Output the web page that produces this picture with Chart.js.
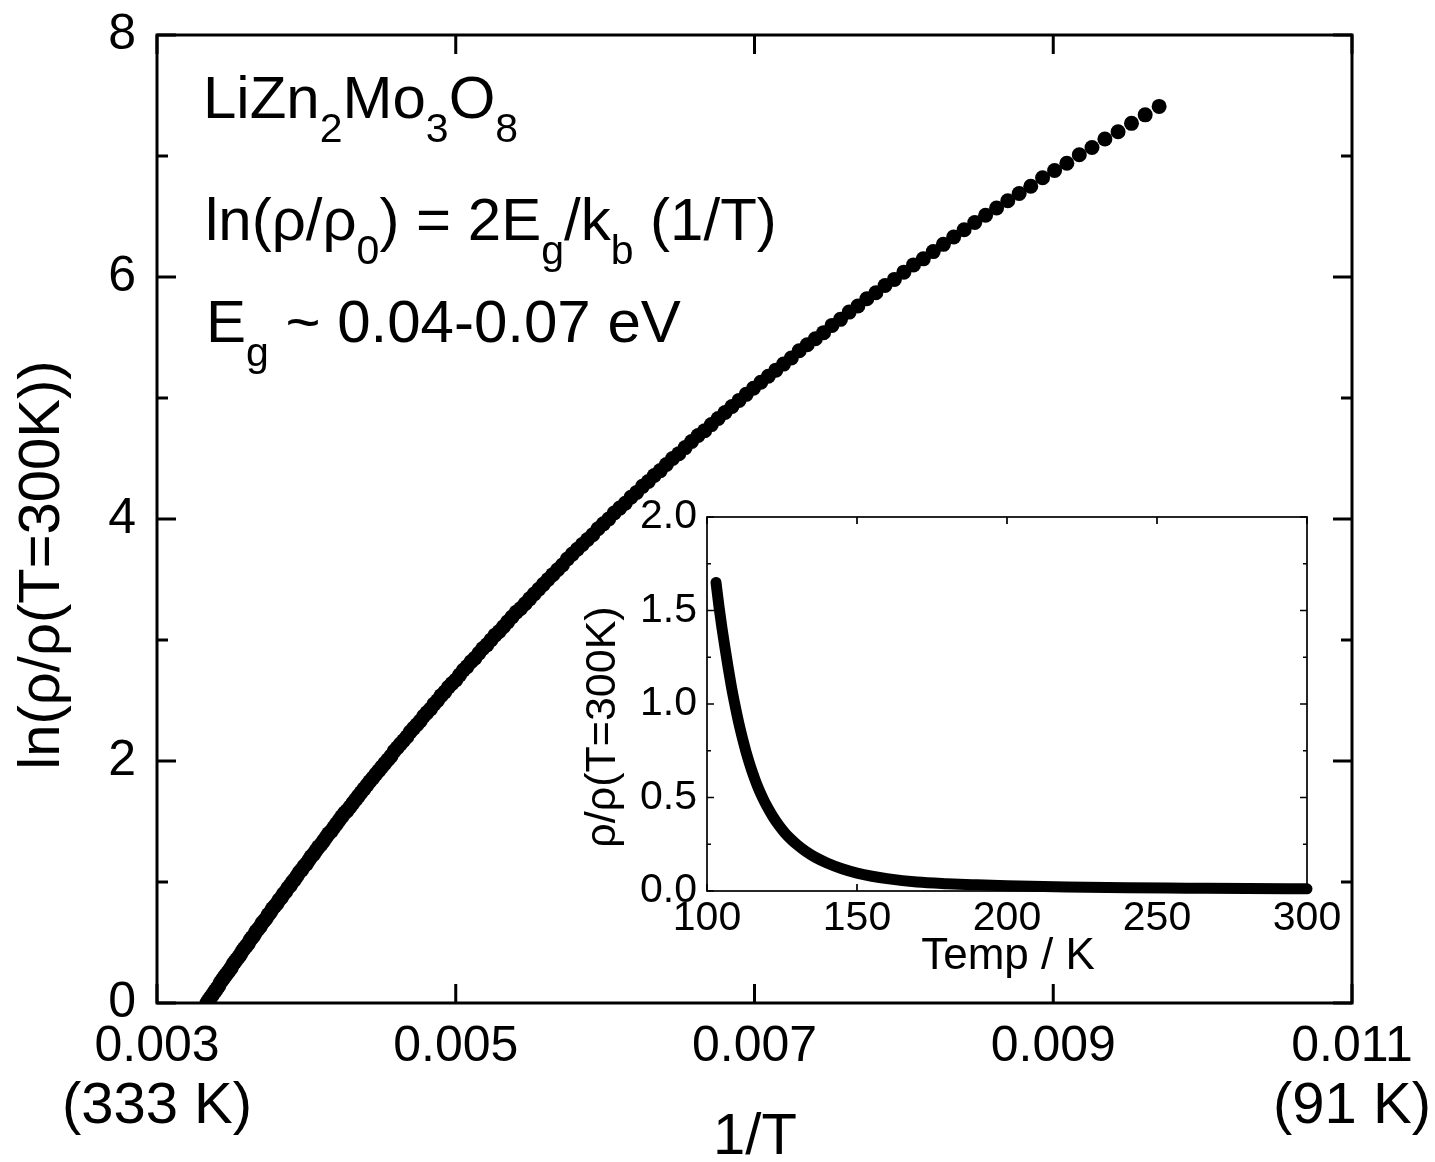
<!DOCTYPE html>
<html>
<head>
<meta charset="utf-8">
<script src="https://cdn.jsdelivr.net/npm/chart.js@4.4.1/dist/chart.umd.min.js"></script>
<style>
  html, body { margin: 0; padding: 0; background: #fff; }
  #wrap { position: relative; width: 1435px; height: 1162px; }
  #mainChart { position: absolute; left: 0; top: 0; }
  #insetChart { position: absolute; left: 560px; top: 490px; }
</style>
</head>
<body>
<div id="wrap">
  <canvas id="mainChart" width="1435" height="1162"></canvas>
  <canvas id="insetChart" width="800" height="500"></canvas>
</div>
<script>
// --- data: main panel, ln(rho/rho300) per temperature (K) ---
const temps = [
  300, 299, 298, 297, 296, 295, 294, 293, 292, 291,
  290, 289, 288, 287, 286, 285, 284, 283, 282, 281,
  280, 279, 278, 277, 276, 275, 274, 273, 272, 271,
  270, 269, 268, 267, 266, 265, 264, 263, 262, 261,
  260, 259, 258, 257, 256, 255, 254, 253, 252, 251,
  250, 249, 248, 247, 246, 245, 244, 243, 242, 241,
  240, 239, 238, 237, 236, 235, 234, 233, 232, 231,
  230, 229, 228, 227, 226, 225, 224, 223, 222, 221,
  220, 219, 218, 217, 216, 215, 214, 213, 212, 211,
  210, 209, 208, 207, 206, 205, 204, 203, 202, 201,
  200, 199, 198, 197, 196, 195, 194, 193, 192, 191,
  190, 189, 188, 187, 186, 185, 184, 183, 182, 181,
  180, 179, 178, 177, 176, 175, 174, 173, 172, 171,
  170, 169, 168, 167, 166, 165, 164, 163, 162, 161,
  160, 159, 158, 157, 156, 155, 154, 153, 152, 151,
  150, 149, 148, 147, 146, 145, 144, 143, 142, 141,
  140, 139, 138, 137, 136, 135, 134, 133, 132, 131,
  130, 129, 128, 127, 126, 125, 124, 123, 122, 121,
  120, 119, 118, 117, 116, 115, 114, 113, 112, 111,
  110, 109, 108, 107, 106, 105, 104, 103
];
const lnRatio = [
  0.00, 0.02, 0.04, 0.06, 0.08, 0.10, 0.12, 0.14, 0.17, 0.19,
  0.21, 0.23, 0.25, 0.27, 0.29, 0.32, 0.34, 0.36, 0.38, 0.40,
  0.43, 0.45, 0.47, 0.49, 0.52, 0.54, 0.56, 0.59, 0.61, 0.63,
  0.66, 0.68, 0.70, 0.73, 0.75, 0.78, 0.80, 0.82, 0.85, 0.87,
  0.90, 0.92, 0.95, 0.97, 1.00, 1.02, 1.05, 1.08, 1.10, 1.13,
  1.15, 1.18, 1.21, 1.23, 1.26, 1.29, 1.31, 1.34, 1.37, 1.40,
  1.42, 1.45, 1.48, 1.51, 1.54, 1.57, 1.59, 1.62, 1.65, 1.68,
  1.71, 1.74, 1.77, 1.80, 1.83, 1.86, 1.89, 1.92, 1.95, 1.98,
  2.01, 2.04, 2.08, 2.11, 2.14, 2.17, 2.20, 2.24, 2.27, 2.30,
  2.33, 2.37, 2.40, 2.43, 2.47, 2.50, 2.54, 2.57, 2.61, 2.64,
  2.67, 2.71, 2.75, 2.78, 2.82, 2.85, 2.89, 2.93, 2.96, 3.00,
  3.04, 3.07, 3.11, 3.15, 3.19, 3.23, 3.26, 3.30, 3.34, 3.38,
  3.42, 3.46, 3.50, 3.54, 3.58, 3.62, 3.67, 3.71, 3.75, 3.79,
  3.83, 3.87, 3.92, 3.96, 4.00, 4.05, 4.09, 4.13, 4.18, 4.22,
  4.27, 4.31, 4.36, 4.40, 4.45, 4.50, 4.54, 4.59, 4.64, 4.69,
  4.73, 4.78, 4.83, 4.88, 4.93, 4.98, 5.03, 5.08, 5.13, 5.18,
  5.23, 5.28, 5.33, 5.39, 5.44, 5.49, 5.54, 5.60, 5.65, 5.71,
  5.76, 5.82, 5.87, 5.93, 5.98, 6.04, 6.10, 6.15, 6.21, 6.27,
  6.33, 6.39, 6.45, 6.51, 6.57, 6.63, 6.69, 6.75, 6.82, 6.88,
  6.94, 7.01, 7.07, 7.14, 7.20, 7.27, 7.34, 7.41
];

// --- data: inset, rho/rho(300K) vs temperature ---
const insetTemps = [103, 104, 105, 106, 107, 108, 109, 110, 111, 112, 113, 114, 115, 116, 117, 118, 119, 120,
  122, 124, 126, 128, 130, 133, 136, 140, 145, 150, 155, 160, 170, 180, 190, 200, 220, 240, 260, 280, 300];
const insetRatio = [1.65, 1.52, 1.405, 1.30, 1.20, 1.105, 1.02, 0.942, 0.870, 0.805, 0.745, 0.691, 0.641, 0.596, 0.554, 0.517, 0.483, 0.452,
  0.397, 0.350, 0.310, 0.277, 0.248, 0.211, 0.181, 0.150, 0.119, 0.096, 0.079, 0.066, 0.048, 0.039, 0.033, 0.028, 0.021, 0.017, 0.015, 0.013, 0.012];

// --- ticks ---
const xTickValues = [0.003, 0.005, 0.007, 0.009, 0.011];
const xTickLabels = ['0.003', '0.005', '0.007', '0.009', '0.011'];
const xTickSubLabels = ['(333 K)', '', '', '', '(91 K)'];
const yTickValues = [0, 2, 4, 6, 8];
const yMinorValues = [1, 3, 5, 7];

const insetXTicks = [100, 150, 200, 250, 300];
const insetYTicks = [0, 0.5, 1.0, 1.5, 2.0];
const insetYMinor = [0.25, 0.75, 1.25, 1.75];

// --- text ---
const xTitle = '1/T';
const yTitle = 'ln(\u03C1/\u03C1(T=300K))';
const insetXTitle = 'Temp / K';
const insetYTitle = '\u03C1/\u03C1(T=300K)';
const noteLines = [
  [['LiZn', 0], ['2', 1], ['Mo', 0], ['3', 1], ['O', 0], ['8', 1]],
  [['ln(\u03C1/\u03C1', 0], ['0', 1], [') = 2E', 0], ['g', 1], ['/k', 0], ['b', 1], [' (1/T)', 0]],
  [['E', 0], ['g', 1], [' ~ 0.04-0.07 eV', 0]]
];

const FAMILY = "'Liberation Sans', Arial, Helvetica, sans-serif";

// 枠と内向きの目盛り
function frameTicks(opts) {
  return {
    id: 'frameTicks',
    afterDraw(chart) {
      const { ctx, chartArea: a, scales } = chart;
      ctx.save();
      ctx.strokeStyle = '#000';
      ctx.lineWidth = opts.lw;
      ctx.lineCap = 'butt';
      ctx.strokeRect(a.left, a.top, a.right - a.left, a.bottom - a.top);
      ctx.beginPath();
      opts.xMajor.forEach(v => {
        const px = scales.x.getPixelForValue(v);
        ctx.moveTo(px, a.bottom); ctx.lineTo(px, a.bottom - opts.major);
        ctx.moveTo(px, a.top); ctx.lineTo(px, a.top + opts.major);
      });
      opts.yMajor.forEach(v => {
        const py = scales.y.getPixelForValue(v);
        ctx.moveTo(a.left, py); ctx.lineTo(a.left + opts.major, py);
        ctx.moveTo(a.right, py); ctx.lineTo(a.right - opts.major, py);
      });
      opts.yMinor.forEach(v => {
        const py = scales.y.getPixelForValue(v);
        ctx.moveTo(a.left, py); ctx.lineTo(a.left + opts.minor, py);
        ctx.moveTo(a.right, py); ctx.lineTo(a.right - opts.minor, py);
      });
      ctx.stroke();
      ctx.restore();
    }
  };
}

function drawRich(ctx, x, y, parts, size, subSize, subDrop) {
  let cx = x;
  parts.forEach(([t, sub]) => {
    ctx.font = (sub ? subSize : size) + 'px ' + FAMILY;
    ctx.fillText(t, cx, sub ? y + subDrop : y);
    cx += ctx.measureText(t).width;
  });
}

function drawRotated(ctx, text, cx, cy, size) {
  ctx.save();
  ctx.translate(cx, cy);
  ctx.rotate(-Math.PI / 2);
  ctx.font = size + 'px ' + FAMILY;
  ctx.textAlign = 'center';
  ctx.textBaseline = 'middle';
  ctx.fillText(text, 0, 0);
  ctx.restore();
}

// 注記とタイトル
const mainText = {
  id: 'mainText',
  afterDraw(chart) {
    const ctx = chart.ctx;
    ctx.save();
    ctx.fillStyle = '#000';
    ctx.textAlign = 'left';
    ctx.textBaseline = 'alphabetic';
    const baselines = [118, 240, 342];
    const lefts = [203, 205, 206];
    noteLines.forEach((parts, i) => drawRich(ctx, lefts[i], baselines[i], parts, 60, 41, 24));
    ctx.font = '58px ' + FAMILY;
    ctx.textAlign = 'center';
    ctx.textBaseline = 'middle';
    ctx.fillText(xTitle, 755, 1138);
    drawRotated(ctx, yTitle, 43, 565, 58);
    // 2行目の温度表記
    xTickValues.forEach((v, i) => {
      if (xTickSubLabels[i]) ctx.fillText(xTickSubLabels[i], chart.scales.x.getPixelForValue(v), 1107);
    });
    ctx.restore();
  }
};

const insetText = {
  id: 'insetText',
  afterDraw(chart) {
    const ctx = chart.ctx;
    ctx.save();
    ctx.fillStyle = '#000';
    ctx.font = '44px ' + FAMILY;
    ctx.textAlign = 'center';
    ctx.textBaseline = 'middle';
    ctx.fillText(insetXTitle, 448, 467);
    drawRotated(ctx, insetYTitle, 43, 237, 43);
    ctx.restore();
  }
};

// 本体グラフ
new Chart(document.getElementById('mainChart'), {
  type: 'scatter',
  data: {
    datasets: [{
      data: temps.map((t, i) => ({ x: 1 / t, y: lnRatio[i] })),
      backgroundColor: '#000',
      borderColor: '#000',
      pointRadius: 7.5,
      pointBorderWidth: 0,
      pointHoverRadius: 7.5,
      clip: 0
    }]
  },
  options: {
    responsive: false,
    animation: false,
    events: [],
    layout: { padding: { left: 0, top: 35, right: 83, bottom: 0 } },
    plugins: { legend: { display: false }, tooltip: { enabled: false } },
    scales: {
      x: {
        type: 'linear', min: 0.003, max: 0.011,
        grid: { display: false, drawTicks: false },
        border: { display: false },
        ticks: {
          autoSkip: false, maxRotation: 0, minRotation: 0, padding: 14, color: '#000',
          font: { family: FAMILY, size: 50, lineHeight: 1.2 },
          callback: (v) => {
            const i = xTickValues.findIndex(t => Math.abs(t - v) < 1e-9);
            return i < 0 ? '' : xTickLabels[i];
          }
        },
        afterBuildTicks: s => { s.ticks = xTickValues.map(v => ({ value: v })); },
        afterFit: s => { s.height = 1162 - 1003; s.paddingLeft = 0; s.paddingRight = 0; }
      },
      y: {
        type: 'linear', min: 0, max: 8,
        grid: { display: false, drawTicks: false },
        border: { display: false },
        ticks: {
          padding: 21, color: '#000',
          font: { family: FAMILY, size: 50, lineHeight: 1 },
          callback: (v) => String(v)
        },
        afterBuildTicks: s => { s.ticks = yTickValues.map(v => ({ value: v })); },
        afterFit: s => { s.width = 157; s.paddingTop = 0; s.paddingBottom = 0; }
      }
    }
  },
  plugins: [frameTicks({ lw: 3, major: 19, minor: 11, xMajor: xTickValues, yMajor: yTickValues, yMinor: yMinorValues }), mainText]
});

// 挿入図
new Chart(document.getElementById('insetChart'), {
  type: 'scatter',
  data: {
    datasets: [{
      data: insetTemps.map((t, i) => ({ x: t, y: insetRatio[i] })),
      showLine: true,
      borderColor: '#000',
      backgroundColor: '#000',
      borderWidth: 11,
      borderCapStyle: 'round',
      borderJoinStyle: 'round',
      cubicInterpolationMode: 'monotone',
      pointRadius: 0,
      pointHoverRadius: 0,
      clip: 8
    }]
  },
  options: {
    responsive: false,
    animation: false,
    events: [],
    layout: { padding: { left: 0, top: 27, right: 53, bottom: 0 } },
    plugins: { legend: { display: false }, tooltip: { enabled: false } },
    scales: {
      x: {
        type: 'linear', min: 100, max: 300,
        grid: { display: false, drawTicks: false },
        border: { display: false },
        ticks: {
          autoSkip: false, maxRotation: 0, minRotation: 0, padding: 7, color: '#000',
          font: { family: FAMILY, size: 41, lineHeight: 1 },
          callback: (v) => String(v)
        },
        afterBuildTicks: s => { s.ticks = insetXTicks.map(v => ({ value: v })); },
        afterFit: s => { s.height = 500 - 401; s.paddingLeft = 0; s.paddingRight = 0; }
      },
      y: {
        type: 'linear', min: 0, max: 2,
        grid: { display: false, drawTicks: false },
        border: { display: false },
        ticks: {
          padding: 10, color: '#000',
          font: { family: FAMILY, size: 41, lineHeight: 1 },
          callback: (v) => v.toFixed(1)
        },
        afterBuildTicks: s => { s.ticks = insetYTicks.map(v => ({ value: v })); },
        afterFit: s => { s.width = 147; s.paddingTop = 0; s.paddingBottom = 0; }
      }
    }
  },
  plugins: [frameTicks({ lw: 1.7, major: 7, minor: 4, xMajor: insetXTicks, yMajor: insetYTicks, yMinor: insetYMinor }), insetText]
});
</script>
</body>
</html>
